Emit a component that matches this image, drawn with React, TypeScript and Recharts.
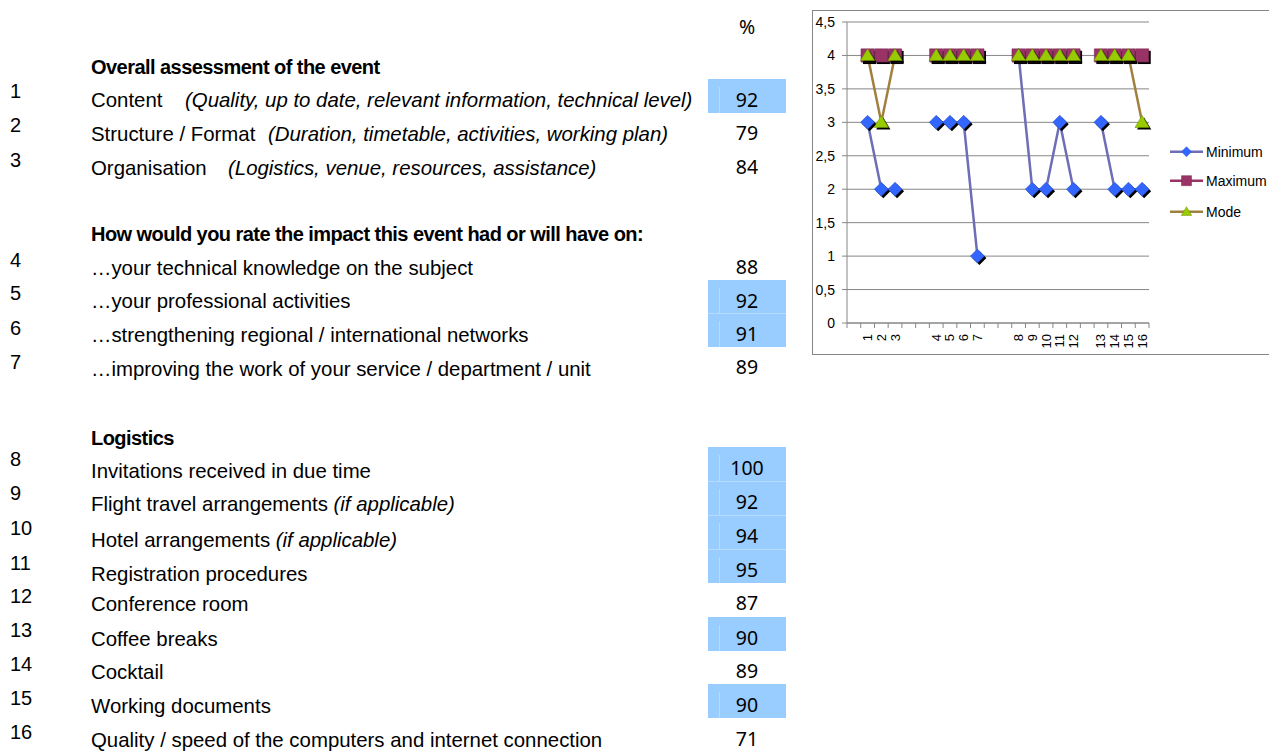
import React from 'react';
import { CartesianGrid, Line, LineChart, XAxis, YAxis } from 'recharts';

// ---- chart data (blank slots are the empty rows Excel kept in the range) ----
const slots = ['', '1', '2', '3', '', '', '4', '5', '6', '7', '', '', '8', '9', '10', '11', '12', '', '13', '14', '15', '16'];
const minimum = [null, 3, 2, 2, null, null, 3, 3, 3, 1, null, null, 4, 2, 2, 3, 2, null, 3, 2, 2, 2];
const maximum = [null, 4, 4, 4, null, null, 4, 4, 4, 4, null, null, 4, 4, 4, 4, 4, null, 4, 4, 4, 4];
const mode = [null, 4, 3, 4, null, null, 4, 4, 4, 4, null, null, 4, 4, 4, 4, 4, null, 4, 4, 4, 3];
const yTicks = [0, 0.5, 1, 1.5, 2, 2.5, 3, 3.5, 4, 4.5];

// ---- table data ----
const sectionTitles = [
  'Overall assessment of the event',
  'How would you rate the impact this event had or will have on:',
  'Logistics',
];
const itemLabels = [
  'Content',
  'Structure / Format',
  'Organisation',
  '…your technical knowledge on the subject',
  '…your professional activities',
  '…strengthening regional / international networks',
  '…improving the work of your service / department / unit',
  'Invitations received in due time',
  'Flight travel arrangements',
  'Hotel arrangements',
  'Registration procedures',
  'Conference room',
  'Coffee breaks',
  'Cocktail',
  'Working documents',
  'Quality / speed of the computers and internet connection',
];
const itemNotes = [
  '(Quality, up to date, relevant information, technical level)',
  '(Duration, timetable, activities, working plan)',
  '(Logistics, venue, resources, assistance)',
  '', '', '', '', '',
  '(if applicable)',
  '(if applicable)',
  '', '', '', '', '', '',
];
const scores = [92, 79, 84, 88, 92, 91, 89, 100, 92, 94, 95, 87, 90, 89, 90, 71];
const highlighted = [true, false, false, false, true, true, false, true, true, true, true, false, true, false, true, false];

// ---- layout (page pixels) ----
const sectionY = [67, 233.7, 438];
// [cell top, label centre, row-number centre]
const rowLayout = [
  [79, 99.5, 91], [112.5, 133.8, 125], [146, 168.3, 160],
  [246.5, 267.5, 260], [280, 301, 293], [313, 335, 327.7], [346.7, 368.5, 361.7],
  [447, 471, 459], [481, 504.3, 493], [515, 539.7, 528.3], [549, 573.8, 562.5],
  [582, 604, 596], [617, 638.5, 630], [650, 672, 664], [684, 705.7, 697.5], [718, 740, 731.5],
];
const noteX: Record<number, number> = { 0: 185, 1: 268, 2: 228 };

const AXIS = '#868686';
const SANS = '"Liberation Sans", Arial, sans-serif';
const CH_W = 458;
const CH_H = 343;
const MARGIN = { top: 11, right: 122, bottom: 0, left: 0 };
const Y_W = 34;
const BAND = (CH_W - MARGIN.right - MARGIN.left - Y_W) / slots.length;

type Shape = 'diamond' | 'square' | 'triangle';

const series: { key: string; name: string; line: string; fill: string; edge: string; shape: Shape; r: number }[] = [
  { key: 'minimum', name: 'Minimum', line: '#6e6eb6', fill: '#3366ff', edge: '#2a52c8', shape: 'diamond', r: 7 },
  { key: 'maximum', name: 'Maximum', line: '#993366', fill: '#993366', edge: '#7a2850', shape: 'square', r: 6.6 },
  { key: 'mode', name: 'Mode', line: '#a0803e', fill: '#99cc00', edge: '#6f9400', shape: 'triangle', r: 6.8 },
];

// empty slots need their own id so the category axis keeps all 22 of them
const chartData = slots.map((slot, i) => ({
  id: slot || `gap${i}`,
  minimum: minimum[i],
  maximum: maximum[i],
  mode: mode[i],
}));

function markerPath(shape: Shape, cx: number, cy: number, r: number) {
  if (shape === 'diamond') return `M${cx},${cy - r}L${cx + r},${cy}L${cx},${cy + r}L${cx - r},${cy}Z`;
  if (shape === 'square') return `M${cx - r},${cy - r}h${2 * r}v${2 * r}h${-2 * r}Z`;
  return `M${cx},${cy - r}L${cx + r * 1.05},${cy + r * 0.75}L${cx - r * 1.05},${cy + r * 0.75}Z`;
}

function makeDot(shape: Shape, fill: string, edge: string, r: number) {
  // eslint-disable-next-line @typescript-eslint/no-explicit-any
  return (props: any) => {
    const { cx, cy, index, value } = props ?? {};
    if (value == null || typeof cx !== 'number' || typeof cy !== 'number' || isNaN(cy)) {
      return <g key={`dot-${index}`} />;
    }
    return (
      <g key={`dot-${index}`}>
        <path d={markerPath(shape, cx + 2, cy + 2, r)} fill="#000" />
        <path d={markerPath(shape, cx, cy, r)} fill={fill} stroke={edge} strokeWidth={0.6} />
      </g>
    );
  };
}

// Excel puts category tick marks between the categories, labels rotated.
// eslint-disable-next-line @typescript-eslint/no-explicit-any
const XTick = (props: any) => {
  const { x, y, index } = props;
  const half = BAND / 2;
  return (
    <g>
      <line x1={x - half} y1={y} x2={x - half} y2={y + 5} stroke={AXIS} />
      {index === slots.length - 1 && <line x1={x + half} y1={y} x2={x + half} y2={y + 5} stroke={AXIS} />}
      <text
        transform={`translate(${x + 4.5},${y + 11}) rotate(-90)`}
        textAnchor="end"
        fontSize={13}
        fontFamily={SANS}
        fill="#000"
      >
        {slots[index]}
      </text>
    </g>
  );
};

// eslint-disable-next-line @typescript-eslint/no-explicit-any
const YTick = (props: any) => {
  const { x, y, payload } = props;
  return (
    <text x={x} y={y + 5} textAnchor="end" fontSize={14} fontFamily={SANS} fill="#000">
      {String(payload.value).replace('.', ',')}
    </text>
  );
};

function Legend() {
  const rows = [151.7, 180.7, 211.7];
  return (
    <svg style={{ position: 'absolute', left: 1160, top: 130 }} width={109} height={100}>
      {series.map((s, i) => {
        const y = rows[i] - 130;
        return (
          <g key={s.key}>
            <line x1={10} y1={y} x2={43} y2={y} stroke={s.line} strokeWidth={2.5} />
            <path d={markerPath(s.shape, 26.5, y, 5)} fill={s.fill} stroke={s.edge} strokeWidth={0.5} />
            <text x={46} y={y + 5} fontSize={14} fontFamily={SANS} fill="#000">{s.name}</text>
          </g>
        );
      })}
    </svg>
  );
}

function Table() {
  const text = (top: number, h = 24) => ({ position: 'absolute' as const, top: top - h / 2, height: h, lineHeight: `${h}px`, whiteSpace: 'nowrap' as const });
  return (
    <>
      <div style={{ ...text(26.8), left: 708, width: 78, textAlign: 'center', fontFamily: '"Noto Sans", sans-serif', fontSize: 19.5 }}>%</div>
      {sectionTitles.map((t, i) => (
        <div key={t} style={{ ...text(sectionY[i]), left: 91, fontWeight: 'bold', fontSize: 20, letterSpacing: -0.55 }}>{t}</div>
      ))}
      {itemLabels.map((label, i) => {
        const [top, ly, ny] = rowLayout[i];
        const note = itemNotes[i];
        return (
          <React.Fragment key={label}>
            {highlighted[i] && (
              <div style={{ position: 'absolute', left: 708, top, width: 78, height: 33.5, background: '#99ccff' }}>
                <div style={{ position: 'absolute', left: 11, top: 8, bottom: 0, width: 1, background: '#b8dcff' }} />
                {i > 0 && highlighted[i - 1] && (
                  <div style={{ position: 'absolute', left: 0, right: 0, top: 0, height: 1, background: '#b8dcff' }} />
                )}
              </div>
            )}
            <div style={{ ...text(ny), left: 10, fontSize: 20 }}>{i + 1}</div>
            <div style={{ ...text(ly), left: 91, fontSize: 20.4 }}>
              {label}
              {note && noteX[i] === undefined && <i> {note}</i>}
            </div>
            {note && noteX[i] !== undefined && (
              <div style={{ ...text(ly), left: noteX[i], fontSize: 20.4, fontStyle: 'italic' }}>{note}</div>
            )}
            <div style={{ ...text(top + 20.7), left: 708, width: 78, textAlign: 'center', fontFamily: '"Noto Sans", sans-serif', fontSize: 19.5 }}>
              {scores[i]}
            </div>
          </React.Fragment>
        );
      })}
    </>
  );
}

export default function App() {
  return (
    <div
      style={{
        position: 'absolute',
        left: 0,
        top: 0,
        width: 1269,
        height: 751,
        overflow: 'hidden',
        background: '#fff',
        fontFamily: SANS,
        color: '#000',
      }}
    >
      <Table />
      <div style={{ position: 'absolute', left: 812, top: 10, width: 460, height: 345, boxSizing: 'border-box', border: `1px solid ${AXIS}` }}>
        <LineChart width={CH_W} height={CH_H} data={chartData} margin={MARGIN}>
          <CartesianGrid vertical={false} stroke={AXIS} />
          <XAxis
            dataKey="id"
            type="category"
            interval={0}
            height={31}
            padding={{ left: BAND / 2, right: BAND / 2 }}
            tickSize={0}
            tickMargin={0}
            tickLine={false}
            axisLine={{ stroke: AXIS }}
            tick={<XTick />}
          />
          <YAxis
            width={Y_W}
            type="number"
            domain={[0, 4.5]}
            ticks={yTicks}
            interval={0}
            tickSize={5}
            tickMargin={7}
            tickLine={{ stroke: AXIS }}
            axisLine={{ stroke: AXIS }}
            tick={<YTick />}
          />
          {series.map((s) => (
            <Line
              key={s.key}
              dataKey={s.key}
              name={s.name}
              type="linear"
              stroke={s.line}
              strokeWidth={2.5}
              dot={makeDot(s.shape, s.fill, s.edge, s.r)}
              activeDot={false}
              isAnimationActive={false}
            />
          ))}
        </LineChart>
      </div>
      <Legend />
    </div>
  );
}
